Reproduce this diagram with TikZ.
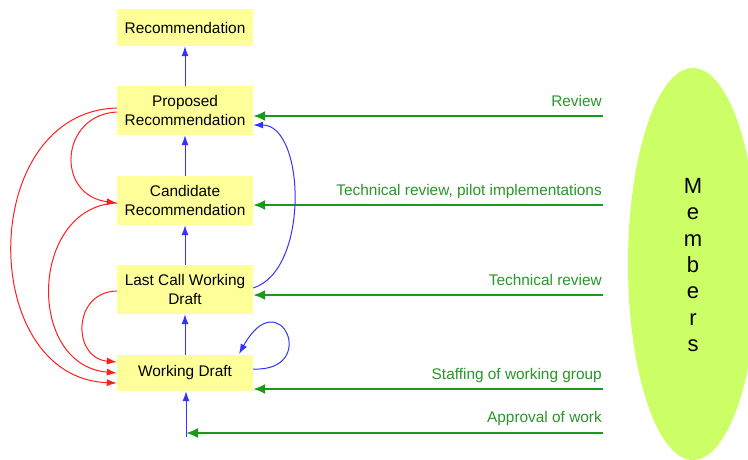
\documentclass[tikz,border=0pt]{standalone}
\usepackage{fontspec}
\setmainfont{Liberation Sans}
\usetikzlibrary{arrows.meta,shapes.geometric}
\definecolor{boxfill}{RGB}{255,255,153}
\definecolor{memfill}{RGB}{204,255,102}
\definecolor{bluel}{RGB}{51,51,255}
\definecolor{greenl}{RGB}{25,155,25}
\definecolor{greent}{RGB}{40,150,40}
\definecolor{redl}{RGB}{255,30,30}
\tikzset{
  stagebox/.style={fill=boxfill, draw=none, minimum width=136pt, align=center, inner sep=0pt, font=\fontsize{15.4}{18.5}\selectfont},
  bluearr/.style={draw=bluel, line width=1pt, -{Latex[length=10pt,width=7pt]}},
  redarr/.style={draw=redl, line width=1pt, -{Latex[length=10pt,width=7pt]}},
  greenarr/.style={draw=greenl, line width=2pt, -{Latex[length=12pt,width=10pt]}},
  greenlabel/.style={text=greent, anchor=base east, inner sep=0pt, font=\fontsize{15.4}{18}\selectfont},
}
\begin{document}
\begin{tikzpicture}[x=1pt,y=-1pt]
\useasboundingbox (0,0) rectangle (748,459);
\begin{scope}
\clip (0,0) rectangle (748,459);
\node[ellipse, fill=memfill, minimum width=130pt, minimum height=392pt, inner sep=0pt] (mem) at (693,264) {};
\end{scope}
\node[align=center, font=\fontsize{22}{26.3}\selectfont] (memtext) at (693,265) {M\\e\\m\\b\\e\\r\\s};

\node[stagebox, minimum height=37pt] (rec) at (185,27.5) {Recommendation};
\node[stagebox, minimum height=49pt] (pr) at (185,110.5) {Proposed\\Recommendation};
\node[stagebox, minimum height=49pt] (cr) at (185,200.5) {Candidate\\Recommendation};
\node[stagebox, minimum height=49pt] (lc) at (185,289.5) {Last Call Working\\Draft};
\node[stagebox, minimum height=36pt] (wd) at (185,373) {Working Draft};

\draw[bluearr] (pr) -- (rec);
\draw[bluearr] (cr) -- (pr);
\draw[bluearr] (lc) -- (cr);
\draw[bluearr] (wd) -- (lc);
\coordinate (bot) at (186,437);
\draw[bluearr] (bot) -- (bot |- wd.south);

% green inputs
\coordinate (g1) at (603,116);
\coordinate (g2) at (603,205);
\coordinate (g3) at (603,295);
\coordinate (g4) at (603,389);
\coordinate (g5) at (603,433);
\draw[greenarr] (g1) -- (g1 -| pr.east);
\draw[greenarr] (g2) -- (g2 -| cr.east);
\draw[greenarr] (g3) -- (g3 -| lc.east);
\draw[greenarr] (g4) -- (g4 -| wd.east);
\draw[greenarr] (g5) -- (g5 -| bot);
\node[greenlabel] (l1) at (602,106) {Review};
\node[greenlabel] (l2) at (602,195) {Technical review, pilot implementations};
\node[greenlabel] (l3) at (602,285) {Technical review};
\node[greenlabel] (l4) at (602,379) {Staffing of working group};
\node[greenlabel] (l5) at (602,422) {Approval of work};

% red back arrows
\draw[redarr] (pr.west |- 0,112) .. controls (60,115) and (55,195) .. (cr.west |- 0,203);
\draw[redarr] (pr.west |- 0,108) .. controls (-23,112) and (-23,378) .. (wd.west |- 0,383);
\draw[redarr] (cr.west |- 0,203) .. controls (30,206) and (25,365) .. (wd.west |- 0,373);
\draw[redarr] (lc.west |- 0,291) .. controls (72,292) and (72,358) .. (wd.west |- 0,362);

% blue forward/self arrows
\draw[bluearr] (lc.east |- 0,288) .. controls (310,270) and (305,125) .. (pr.east |- 0,125);
\draw[bluearr] (wd.east |- 0,369) .. controls (320,372) and (280,280) .. (239,354);
\end{tikzpicture}
\end{document}
